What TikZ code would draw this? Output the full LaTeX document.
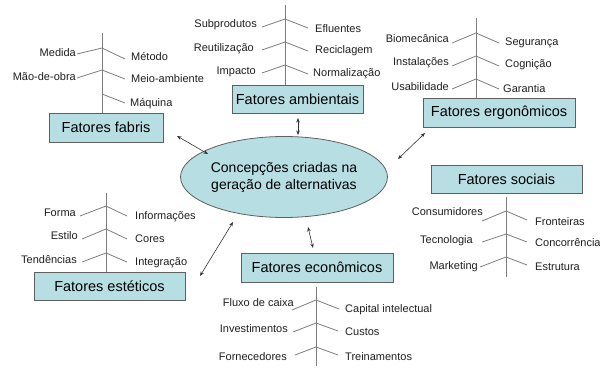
\documentclass[tikz,border=0pt]{standalone}
\usepackage{fontspec}
\setmainfont{Liberation Sans}
\usetikzlibrary{arrows.meta,shapes.geometric}
\definecolor{boxfill}{RGB}{183,223,227}
\definecolor{boxdraw}{RGB}{95,95,95}
\definecolor{bonecol}{RGB}{125,125,125}
\begin{document}
\begin{tikzpicture}[x=1pt,y=-1pt,
  fator/.style={draw=boxdraw, fill=boxfill, line width=0.8pt, inner sep=0pt, font=\fontsize{14.5}{17}\selectfont},
  lbl/.style={font=\fontsize{11}{13}\selectfont, inner sep=0pt, text=black!88},
  bone/.style={draw=bonecol, line width=0.8pt},
  link/.style={draw=black!80, line width=0.6pt, {Stealth[length=4.5pt,width=3.5pt]}-{Stealth[length=4.5pt,width=3.5pt]}}]
\useasboundingbox (0,0) rectangle (600,367);

% central ellipse
\node[draw=boxdraw, fill=boxfill, line width=0.8pt, shape=ellipse, minimum width=142pt, minimum height=81pt, inner sep=0pt, align=center, font=\fontsize{14}{17}\selectfont] (c) at (284,177) {Concepções criadas na\\geração de alternativas};

% boxes
\node[fator, minimum width=114pt, minimum height=29pt] (fab) at (106,127.5) {Fatores fabris};
\node[fator, minimum width=131pt, minimum height=28pt] (amb) at (297.5,99) {Fatores ambientais};
\node[fator, minimum width=152pt, minimum height=29pt] (erg) at (499,112.5) {Fatores ergonômicos};
\node[fator, minimum width=151pt, minimum height=28pt] (soc) at (506.5,179) {Fatores sociais};
\node[fator, minimum width=151pt, minimum height=28pt] (est) at (109.5,286) {Fatores estéticos};
\node[fator, minimum width=152pt, minimum height=29pt] (eco) at (317,267.5) {Fatores econômicos};

% ---- fabris fishbone
\draw[bone] (102,33) -- (fab.north -| 102,0);
\draw[bone] (77,54) -- (102,48) -- (125,59);
\draw[bone] (77,78) -- (102,70) -- (125,79);
\draw[bone] (102,94) -- (125,103);
\node[lbl, anchor=east] (l1) at (76,53) {Medida};
\node[lbl, anchor=west] (l2) at (131,57) {Método};
\node[lbl, anchor=east] (l3) at (76,77) {Mão-de-obra};
\node[lbl, anchor=west] (l4) at (131,79) {Meio-ambiente};
\node[lbl, anchor=west] (l5) at (130,104) {Máquina};

% ---- ambientais fishbone
\draw[bone] (285,5) -- (amb.north -| 285,0);
\draw[bone] (262,27) -- (285,19) -- (308,28);
\draw[bone] (262,50) -- (285,42) -- (308,51);
\draw[bone] (262,73) -- (285,65) -- (308,74);
\node[lbl, anchor=east] (a1) at (257,25) {Subprodutos};
\node[lbl, anchor=west] (a2) at (315,29) {Efluentes};
\node[lbl, anchor=east] (a3) at (254,49) {Reutilização};
\node[lbl, anchor=west] (a4) at (315,51) {Reciclagem};
\node[lbl, anchor=east] (a5) at (256,72) {Impacto};
\node[lbl, anchor=west] (a6) at (313,74) {Normalização};

% ---- ergonomicos fishbone
\draw[bone] (476,18) -- (erg.north -| 476,0);
\draw[bone] (452,43) -- (476,33) -- (499,43);
\draw[bone] (452,66) -- (476,56) -- (499,66);
\draw[bone] (452,89) -- (476,79) -- (499,89);
\node[lbl, anchor=east] (e1) at (449,39) {Biomecânica};
\node[lbl, anchor=west] (e2) at (505,43) {Segurança};
\node[lbl, anchor=east] (e3) at (449,63) {Instalações};
\node[lbl, anchor=west] (e4) at (505,65) {Cognição};
\node[lbl, anchor=east] (e5) at (449,87) {Usabilidade};
\node[lbl, anchor=west] (e6) at (503,89) {Garantia};

% ---- sociais fishbone
\draw[bone] (506,197) -- (506,277);
\draw[bone] (482,221) -- (506,211) -- (527,220);
\draw[bone] (482,242) -- (506,234) -- (527,242);
\draw[bone] (480,267) -- (506,257) -- (527,265);
\node[lbl, anchor=east] (s1) at (483,212) {Consumidores};
\node[lbl, anchor=west] (s2) at (535,222) {Fronteiras};
\node[lbl, anchor=east] (s3) at (473,241) {Tecnologia};
\node[lbl, anchor=west] (s4) at (535,243) {Concorrência};
\node[lbl, anchor=east] (s5) at (478,267) {Marketing};
\node[lbl, anchor=west] (s6) at (535,267) {Estrutura};

% ---- esteticos fishbone
\draw[bone] (106,193) -- (est.north -| 106,0);
\draw[bone] (80,216) -- (106,206) -- (127,216);
\draw[bone] (82,239) -- (106,229) -- (127,239);
\draw[bone] (82,262) -- (106,253) -- (127,262);
\node[lbl, anchor=east] (t1) at (76,213) {Forma};
\node[lbl, anchor=west] (t2) at (135,217) {Informações};
\node[lbl, anchor=east] (t3) at (78,236) {Estilo};
\node[lbl, anchor=west] (t4) at (135,239) {Cores};
\node[lbl, anchor=east] (t5) at (77,260) {Tendências};
\node[lbl, anchor=west] (t6) at (135,263) {Integração};

% ---- economicos fishbone
\draw[bone] (316,287) -- (316,366);
\draw[bone] (292,310) -- (316,300) -- (339,309);
\draw[bone] (293,332) -- (316,323) -- (338,331);
\draw[bone] (295,355) -- (316,347) -- (338,355);
\node[lbl, anchor=east] (k1) at (294,303) {Fluxo de caixa};
\node[lbl, anchor=west] (k2) at (345,310) {Capital intelectual};
\node[lbl, anchor=east] (k3) at (288,329) {Investimentos};
\node[lbl, anchor=west] (k4) at (345,332) {Custos};
\node[lbl, anchor=east] (k5) at (287,357) {Fornecedores};
\node[lbl, anchor=west] (k6) at (345,357) {Treinamentos};

% ---- arrows
\coordinate (fabA) at (177,136); \coordinate (fabB) at (208,154);
\coordinate (ambA) at (298,118); \coordinate (ambB) at (298,135);
\coordinate (ergA) at (425,133); \coordinate (ergB) at (398,159);
\coordinate (estA) at (200,276); \coordinate (estB) at (233,222);
\coordinate (ecoA) at (308,227); \coordinate (ecoB) at (313,248);
\draw[link] (fabA) -- (fabB);
\draw[link] (ambA) -- (ambB);
\draw[link] (ergA) -- (ergB);
\draw[link] (estA) -- (estB);
\draw[link] (ecoA) -- (ecoB);
\end{tikzpicture}
\end{document}
